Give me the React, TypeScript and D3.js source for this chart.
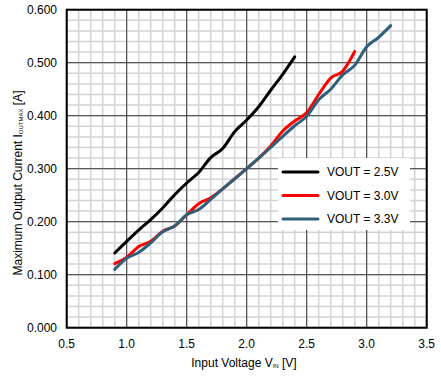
import React, { useEffect, useRef } from "react";
import * as d3 from "d3";

// values (V_IN in volts, I_OUTMAX in amps)
const vin25 = [0.9, 1.0, 1.1, 1.2, 1.3, 1.4, 1.5, 1.6, 1.7, 1.8, 1.9, 2.0, 2.1, 2.2, 2.3, 2.4];
const iout25 = [0.141, 0.163, 0.184, 0.204, 0.226, 0.251, 0.273, 0.293, 0.321, 0.338, 0.370, 0.392, 0.417, 0.448, 0.478, 0.511];

const vin30 = [0.9, 1.0, 1.1, 1.2, 1.3, 1.4, 1.5, 1.6, 1.7, 1.8, 1.9, 2.0, 2.1, 2.2, 2.3, 2.4, 2.5, 2.6, 2.7, 2.8, 2.9];
const iout30 = [0.121, 0.133, 0.153, 0.163, 0.182, 0.192, 0.213, 0.234, 0.245, 0.262, 0.281, 0.300, 0.320, 0.343, 0.371, 0.390, 0.406, 0.440, 0.471, 0.484, 0.521];

const vin33 = [0.9, 1.0, 1.1, 1.2, 1.3, 1.4, 1.5, 1.6, 1.7, 1.8, 1.9, 2.0, 2.1, 2.2, 2.3, 2.4, 2.5, 2.6, 2.7, 2.8, 2.9, 3.0, 3.1, 3.2];
const iout33 = [0.110, 0.131, 0.142, 0.160, 0.181, 0.192, 0.213, 0.223, 0.242, 0.262, 0.281, 0.300, 0.320, 0.340, 0.361, 0.381, 0.399, 0.430, 0.450, 0.477, 0.495, 0.530, 0.548, 0.570];

const seriesNames = ["VOUT = 2.5V", "VOUT = 3.0V", "VOUT = 3.3V"];
const seriesColors = ["#000000", "#ff0000", "#2e6079"];

const xTicks = [0.5, 1.0, 1.5, 2.0, 2.5, 3.0, 3.5];
const yTicks = [0, 0.1, 0.2, 0.3, 0.4, 0.5, 0.6];

const W = 441;
const H = 386;
const FONT = "Arial, 'Liberation Sans', sans-serif";

const App = () => {
  const ref = useRef<SVGSVGElement>(null);

  useEffect(() => {
    const svg = d3.select(ref.current);
    svg.selectAll("*").remove();

    const x = d3.scaleLinear().domain([0.5, 3.5]).range([66.7, 426.7]);
    const y = d3.scaleLinear().domain([0, 0.6]).range([327.7, 9.7]);

    const grid = svg.append("g");
    // minor grid
    grid
      .selectAll("line.vx")
      .data(d3.range(0, 31).map(i => 0.5 + i * 0.1))
      .enter()
      .append("line")
      .attr("x1", d => x(d))
      .attr("x2", d => x(d))
      .attr("y1", y(0))
      .attr("y2", y(0.6))
      .attr("stroke", "#d3d3d3")
      .attr("stroke-width", 1.5);
    grid
      .selectAll("line.hy")
      .data(d3.range(0, 31).map(i => i * 0.02))
      .enter()
      .append("line")
      .attr("x1", x(0.5))
      .attr("x2", x(3.5))
      .attr("y1", d => y(d))
      .attr("y2", d => y(d))
      .attr("stroke", "#d3d3d3")
      .attr("stroke-width", 1.5);
    // major grid
    grid
      .selectAll("line.mx")
      .data(xTicks)
      .enter()
      .append("line")
      .attr("x1", d => x(d))
      .attr("x2", d => x(d))
      .attr("y1", y(0))
      .attr("y2", y(0.6))
      .attr("stroke", "#3a3a3a")
      .attr("stroke-width", 1);
    grid
      .selectAll("line.my")
      .data(yTicks)
      .enter()
      .append("line")
      .attr("x1", x(0.5))
      .attr("x2", x(3.5))
      .attr("y1", d => y(d))
      .attr("y2", d => y(d))
      .attr("stroke", "#3a3a3a")
      .attr("stroke-width", 1);

    // legend background sits under the curves? no - it hides the grid only
    const legend = svg.append("g");
    legend
      .append("rect")
      .attr("x", 278)
      .attr("y", 158)
      .attr("width", 132)
      .attr("height", 72)
      .attr("fill", "#ffffff");

    // frame
    svg
      .append("rect")
      .attr("x", x(0.5))
      .attr("y", y(0.6))
      .attr("width", x(3.5) - x(0.5))
      .attr("height", y(0) - y(0.6))
      .attr("fill", "none")
      .attr("stroke", "#000")
      .attr("stroke-width", 2);

    // curves
    const series = [
      { v: vin25, i: iout25 },
      { v: vin30, i: iout30 },
      { v: vin33, i: iout33 },
    ];
    const line = d3
      .line<[number, number]>()
      .x(d => x(d[0]))
      .y(d => y(d[1]))
      .curve(d3.curveMonotoneX);
    series.forEach((s, k) => {
      svg
        .append("path")
        .attr("d", line(s.v.map((v, j) => [v, s.i[j]] as [number, number])))
        .attr("fill", "none")
        .attr("stroke", seriesColors[k])
        .attr("stroke-width", 3)
        .attr("stroke-linecap", "round")
        .attr("stroke-linejoin", "round");
    });

    // legend items
    seriesNames.forEach((name, k) => {
      const ly = 172 + k * 23.5;
      legend
        .append("line")
        .attr("x1", 283)
        .attr("x2", 318)
        .attr("y1", ly)
        .attr("y2", ly)
        .attr("stroke", seriesColors[k])
        .attr("stroke-width", 3)
        .attr("stroke-linecap", "round");
      legend
        .append("text")
        .attr("x", 327)
        .attr("y", ly + 4)
        .attr("font-family", FONT)
        .attr("font-size", 12)
        .attr("fill", "#000")
        .text(name);
    });
    legend.raise();

    // tick labels
    svg
      .append("g")
      .selectAll("text")
      .data(xTicks)
      .enter()
      .append("text")
      .attr("x", d => x(d))
      .attr("y", 348)
      .attr("text-anchor", "middle")
      .attr("font-family", FONT)
      .attr("font-size", 12)
      .text(d => d.toFixed(1));
    svg
      .append("g")
      .selectAll("text")
      .data(yTicks)
      .enter()
      .append("text")
      .attr("x", 57)
      .attr("y", d => y(d) + 4)
      .attr("text-anchor", "end")
      .attr("font-family", FONT)
      .attr("font-size", 12)
      .text(d => d.toFixed(3));

    // axis titles
    const xt = svg
      .append("text")
      .attr("x", 244)
      .attr("y", 367)
      .attr("text-anchor", "middle")
      .attr("font-family", FONT)
      .attr("font-size", 12);
    xt.append("tspan").text("Input Voltage V");
    xt.append("tspan").attr("font-size", 6).attr("dy", 1).text("IN");
    xt.append("tspan").attr("dy", -1).text(" [V]");

    const yt = svg
      .append("text")
      .attr("transform", `translate(22,${183}) rotate(-90)`)
      .attr("text-anchor", "middle")
      .attr("font-family", FONT)
      .attr("font-size", 12);
    yt.append("tspan").text("Maximum Output Current I");
    yt.append("tspan").attr("font-size", 6).attr("dy", 1).text("OUTMAX");
    yt.append("tspan").attr("dy", -1).text(" [A]");
  }, []);

  return (
    <svg
      ref={ref}
      width={W}
      height={H}
      style={{ position: "absolute", left: 0, top: 0, background: "#fff" }}
    ></svg>
  );
};

export default App;
